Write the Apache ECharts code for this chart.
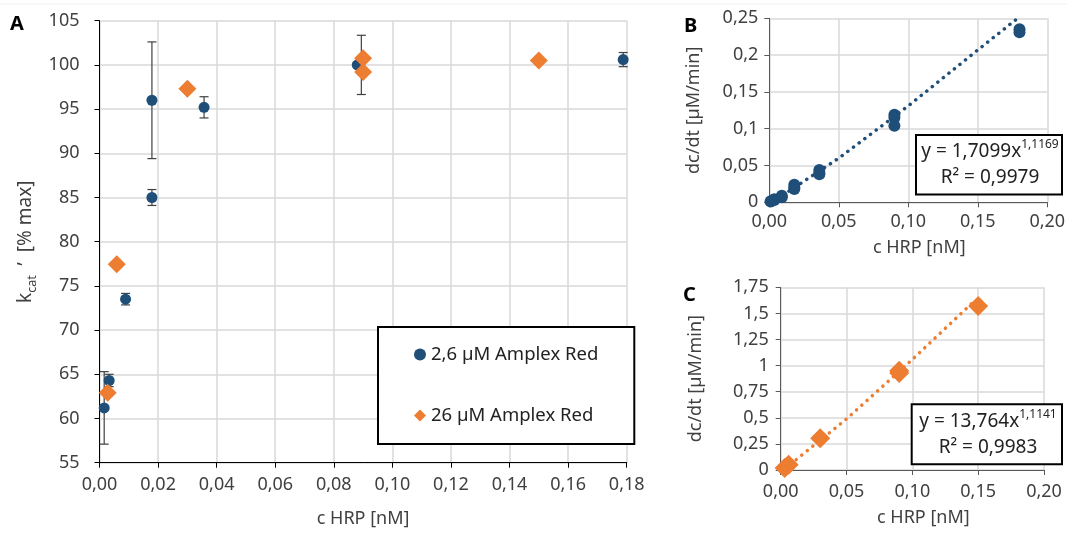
<!DOCTYPE html>
<html>
<head>
<meta charset="utf-8">
<script src="https://cdn.jsdelivr.net/npm/echarts@6/dist/echarts.min.js"></script>
<style>
  html, body { margin: 0; padding: 0; background: #fff; }
  #chart { width: 1067px; height: 534px; }
</style>
</head>
<body>
<div id="chart"></div>
<script>
// panel A: 2,6 uM Amplex Red (blue circles, with error bars)
const lowX = [0.0016, 0.0033, 0.0089, 0.0179, 0.0179, 0.0357, 0.088, 0.1788];
const lowY = [61.2, 64.3, 73.5, 96.0, 85.0, 95.2, 100.0, 100.6];
const lowErr = [4.1, 0.7, 0.65, 6.6, 0.9, 1.2, 3.35, 0.8];
const lowErrX = [0.0016, 0.0033, 0.0089, 0.0179, 0.0179, 0.0357, 0.0894, 0.1788];
// panel A: 26 uM Amplex Red (orange diamonds)
const highX = [0.0028, 0.0059, 0.030, 0.090, 0.090, 0.150];
const highY = [62.9, 77.45, 97.3, 100.75, 99.2, 100.5];

// panel B: rate vs HRP at 2,6 uM
const bX = [0.0009, 0.0018, 0.0036, 0.0036, 0.009, 0.009, 0.018, 0.018, 0.018, 0.036, 0.036, 0.036, 0.09, 0.09, 0.09, 0.18, 0.18];
const bY = [0.001, 0.002, 0.004, 0.003, 0.009, 0.007, 0.024, 0.020, 0.018, 0.044, 0.040, 0.038, 0.119, 0.115, 0.104, 0.235, 0.231];
const bTrendX = [0.0009, 0.01, 0.05, 0.1, 0.15, 0.178];
const bTrendY = [0.0006, 0.010, 0.060, 0.131, 0.207, 0.249];

// panel C: rate vs HRP at 26 uM
const cX = [0.003, 0.006, 0.03, 0.09, 0.09, 0.15];
const cY = [0.02, 0.05, 0.305, 0.95, 0.93, 1.57];
const cTrendX = [0.003, 0.01, 0.05, 0.1, 0.148];
const cTrendY = [0.021, 0.082, 0.489, 1.059, 1.63];

const blue = '#1f4e79';
const orange = '#ed7d31';
const txt = '#404040';
const grid = '#d9d9d9';
const font = 'Noto Sans';
const fs = 18;

function zip(xs, ys) { return xs.map((x, i) => [x, ys[i]]); }
function comma(v, d) {
  if (d !== undefined) return v.toFixed(d).replace('.', ',');
  return String(parseFloat(v.toFixed(4))).replace('.', ',');
}

function axisBase(color) {
  return {
    axisLine: { show: true, onZero: false, lineStyle: { color: color, width: 1 } },
    axisTick: { show: true, inside: false, length: 5, lineStyle: { color: color } },
    splitLine: { show: true, lineStyle: { color: grid, width: 1.5 } },
    axisLabel: { color: txt, fontSize: fs, fontFamily: font },
    nameTextStyle: { color: txt, fontSize: fs, fontFamily: font },
    nameLocation: 'middle'
  };
}

let chart = echarts.init(document.getElementById('chart'), null, { renderer: 'canvas' });

let option = {
  animation: false,
  backgroundColor: '#fff',
  textStyle: { fontFamily: font },
  grid: [
    { left: 99.5, top: 20.7, right: 440.3, bottom: 71.3, containLabel: false, outerBoundsMode: 'none' },
    { left: 769.3, top: 18.3, right: 19.7, bottom: 331.7, containLabel: false, outerBoundsMode: 'none' },
    { left: 780.7, top: 287.3, right: 23, bottom: 64, containLabel: false, outerBoundsMode: 'none' }
  ],
  xAxis: [
    Object.assign(axisBase('#000'), {
      gridIndex: 0, type: 'value', min: 0, max: 0.18, interval: 0.02,
      name: 'c HRP [nM]', nameGap: 47,
      axisLabel: { color: txt, fontSize: fs, fontFamily: font, margin: 13, formatter: v => comma(v, 2) }
    }),
    Object.assign(axisBase('#595959'), {
      gridIndex: 1, type: 'value', min: 0, max: 0.2, interval: 0.05,
      name: 'c HRP [nM]', nameGap: 37,
      nameTextStyle: { color: txt, fontSize: fs, fontFamily: font, padding: [0, 0, 0, 22] },
      axisLabel: { color: txt, fontSize: fs, fontFamily: font, margin: 11, formatter: v => comma(v, 2) }
    }),
    Object.assign(axisBase('#595959'), {
      gridIndex: 2, type: 'value', min: 0, max: 0.2, interval: 0.05,
      name: 'c HRP [nM]', nameGap: 39,
      nameTextStyle: { color: txt, fontSize: fs, fontFamily: font, padding: [0, 0, 0, 22] },
      axisLabel: { color: txt, fontSize: fs, fontFamily: font, margin: 13, formatter: v => comma(v, 2) }
    })
  ],
  yAxis: [
    Object.assign(axisBase('#000'), {
      gridIndex: 0, type: 'value', min: 55, max: 105, interval: 5,
      name: '{k|k}{s|cat}{k|  \u02bc  [% max]}', nameGap: 61, nameRotate: 90,
      nameTextStyle: {
        color: txt, fontSize: 19, fontFamily: font,
        rich: {
          k: { color: txt, fontSize: 19, fontFamily: font, lineHeight: 26 },
          s: { color: txt, fontSize: 12.5, fontFamily: font, lineHeight: 14, verticalAlign: 'bottom' }
        }
      },
      axisLabel: { color: txt, fontSize: fs, fontFamily: font, margin: 20 }
    }),
    Object.assign(axisBase('#595959'), {
      gridIndex: 1, type: 'value', min: 0, max: 0.25, interval: 0.05,
      name: 'dc/dt [µM/min]', nameGap: 66, nameRotate: 90,
      axisLabel: { color: txt, fontSize: fs, fontFamily: font, margin: 11, formatter: v => comma(v) }
    }),
    Object.assign(axisBase('#595959'), {
      gridIndex: 2, type: 'value', min: 0, max: 1.75, interval: 0.25,
      name: 'dc/dt [µM/min]', nameGap: 76, nameRotate: 90,
      axisLabel: { color: txt, fontSize: fs, fontFamily: font, margin: 12, formatter: v => comma(v) }
    })
  ],
  legend: {
    data: ['2,6 µM Amplex Red', '26 µM Amplex Red'],
    orient: 'vertical',
    left: 378, top: 327,
    padding: [18, 36, 19, 36],
    itemGap: 42,
    itemWidth: 12, itemHeight: 12,
    borderColor: '#000', borderWidth: 2,
    backgroundColor: '#fff',
    textStyle: { color: '#222', fontSize: 18.5, fontFamily: font }
  },
  series: [
    {
      name: 'err', type: 'custom', xAxisIndex: 0, yAxisIndex: 0, z: 1,
      data: lowErrX.map((x, i) => [x, lowY[i], lowErr[i]]),
      renderItem: function (params, api) {
        let x = api.value(0), y = api.value(1), e = api.value(2);
        let top = api.coord([x, y + e]);
        let bot = api.coord([x, y - e]);
        let w = 4.5;
        let st = { stroke: '#404040', lineWidth: 1.2 };
        return {
          type: 'group',
          children: [
            { type: 'line', shape: { x1: top[0], y1: top[1], x2: bot[0], y2: bot[1] }, style: st },
            { type: 'line', shape: { x1: top[0] - w, y1: top[1], x2: top[0] + w, y2: top[1] }, style: st },
            { type: 'line', shape: { x1: bot[0] - w, y1: bot[1], x2: bot[0] + w, y2: bot[1] }, style: st }
          ]
        };
      }
    },
    {
      name: '2,6 µM Amplex Red', type: 'scatter', xAxisIndex: 0, yAxisIndex: 0, z: 3,
      symbol: 'circle', symbolSize: 11, itemStyle: { color: blue, opacity: 1 },
      data: zip(lowX, lowY)
    },
    {
      name: '26 µM Amplex Red', type: 'scatter', xAxisIndex: 0, yAxisIndex: 0, z: 4,
      symbol: 'diamond', symbolSize: 18, itemStyle: { color: orange, opacity: 1 },
      data: zip(highX, highY)
    },
    {
      name: 'B trend', type: 'line', xAxisIndex: 1, yAxisIndex: 1, z: 2,
      showSymbol: false, symbol: 'none',
      lineStyle: { color: blue, width: 3.5, type: [0.1, 7], cap: 'round' },
      data: zip(bTrendX, bTrendY)
    },
    {
      name: 'B data', type: 'scatter', xAxisIndex: 1, yAxisIndex: 1, z: 3,
      symbol: 'circle', symbolSize: 12, itemStyle: { color: blue, opacity: 1 },
      data: zip(bX, bY)
    },
    {
      name: 'C trend', type: 'line', xAxisIndex: 2, yAxisIndex: 2, z: 2,
      showSymbol: false, symbol: 'none',
      lineStyle: { color: orange, width: 3.5, type: [0.1, 7], cap: 'round' },
      data: zip(cTrendX, cTrendY)
    },
    {
      name: 'C data', type: 'scatter', xAxisIndex: 2, yAxisIndex: 2, z: 3,
      symbol: 'diamond', symbolSize: 20, itemStyle: { color: orange, opacity: 1 },
      data: zip(cX, cY)
    }
  ],
  graphic: [
    { type: 'line', shape: { x1: 0, y1: 4, x2: 1067, y2: 4 }, style: { stroke: '#f0f0f0', lineWidth: 1 } },
    { type: 'text', left: 10, top: 14, style: { text: 'A', fontSize: 20, fontWeight: 'bold', fontFamily: font, fill: '#000' } },
    { type: 'text', left: 684, top: 16, style: { text: 'B', fontSize: 20, fontWeight: 'bold', fontFamily: font, fill: '#000' } },
    { type: 'text', left: 683, top: 285, style: { text: 'C', fontSize: 20, fontWeight: 'bold', fontFamily: font, fill: '#000' } },
    {
      type: 'rect', z: 10, shape: { x: 916, y: 135, width: 146, height: 59.5 },
      style: { fill: '#fff', stroke: '#000', lineWidth: 2 }
    },
    {
      type: 'text', z: 11, x: 990, y: 165,
      style: {
        text: '{t|y = 1,7099x}{s|1,1169}\n{t|R² = 0,9979}',
        align: 'center', verticalAlign: 'middle',
        rich: {
          t: { fontSize: 19, fontFamily: font, fill: '#222', color: '#222', lineHeight: 26 },
          s: { fontSize: 12, fontFamily: font, fill: '#222', color: '#222', lineHeight: 14, verticalAlign: 'top' }
        }
      }
    },
    {
      type: 'rect', z: 10, shape: { x: 911.7, y: 404.3, width: 150.3, height: 60 },
      style: { fill: '#fff', stroke: '#000', lineWidth: 2 }
    },
    {
      type: 'text', z: 11, x: 988, y: 435,
      style: {
        text: '{t|y = 13,764x}{s|1,1141}\n{t|R² = 0,9983}',
        align: 'center', verticalAlign: 'middle',
        rich: {
          t: { fontSize: 19, fontFamily: font, fill: '#222', color: '#222', lineHeight: 26 },
          s: { fontSize: 12, fontFamily: font, fill: '#222', color: '#222', lineHeight: 14, verticalAlign: 'top' }
        }
      }
    }
  ]
};

chart.setOption(option);
</script>
</body>
</html>
